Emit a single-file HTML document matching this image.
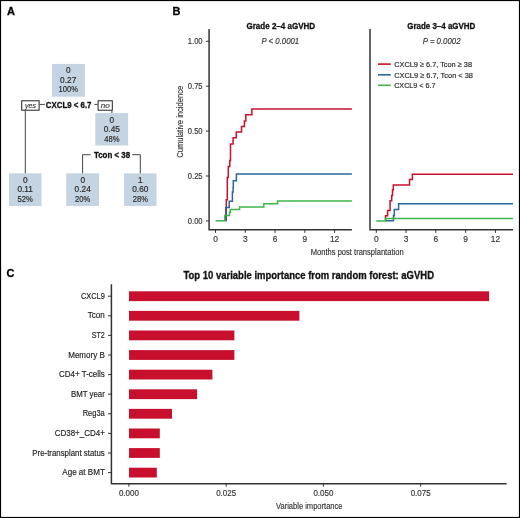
<!DOCTYPE html>
<html><head><meta charset="utf-8"><style>
html,body{margin:0;padding:0;background:#fff;}
body{width:520px;height:518px;overflow:hidden;}
svg{display:block;font-family:"Liberation Sans", sans-serif;will-change:transform;}
</style></head><body>
<svg width="520" height="518" viewBox="0 0 520 518">
<rect x="0.5" y="0.5" width="519" height="517" fill="none" stroke="#000" stroke-width="1.2"/>
<text x="7" y="15.2" font-size="11" text-anchor="start" font-weight="bold" font-style="normal" fill="#000"  stroke="#000" stroke-width="0.3">A</text>
<text x="172.6" y="15.2" font-size="11" text-anchor="start" font-weight="bold" font-style="normal" fill="#000"  stroke="#000" stroke-width="0.3">B</text>
<text x="6.6" y="277.2" font-size="11" text-anchor="start" font-weight="bold" font-style="normal" fill="#000"  stroke="#000" stroke-width="0.3">C</text>
<rect x="51.9" y="63.9" width="33.00000000000001" height="32.800000000000004" fill="#c5d4e2"/>
<text x="68.2" y="73.1" font-size="8.3" text-anchor="middle" font-weight="normal" font-style="normal" fill="#2a2a2a"  stroke="#2a2a2a" stroke-width="0.18">0</text>
<text x="68.2" y="82.8" font-size="8.3" text-anchor="middle" font-weight="normal" font-style="normal" fill="#2a2a2a"  stroke="#2a2a2a" stroke-width="0.18">0.27</text>
<text x="68.2" y="92.0" font-size="8.3" text-anchor="middle" font-weight="normal" font-style="normal" fill="#2a2a2a" textLength="19.42" lengthAdjust="spacingAndGlyphs"  stroke="#2a2a2a" stroke-width="0.18">100%</text>
<rect x="95.3" y="113.1" width="32.8" height="32.400000000000006" fill="#c5d4e2"/>
<text x="111.8" y="122.6" font-size="8.3" text-anchor="middle" font-weight="normal" font-style="normal" fill="#2a2a2a"  stroke="#2a2a2a" stroke-width="0.18">0</text>
<text x="111.8" y="132.3" font-size="8.3" text-anchor="middle" font-weight="normal" font-style="normal" fill="#2a2a2a"  stroke="#2a2a2a" stroke-width="0.18">0.45</text>
<text x="111.8" y="142.0" font-size="8.3" text-anchor="middle" font-weight="normal" font-style="normal" fill="#2a2a2a" textLength="15.2" lengthAdjust="spacingAndGlyphs"  stroke="#2a2a2a" stroke-width="0.18">48%</text>
<rect x="9.0" y="173.3" width="32.5" height="32.69999999999999" fill="#c5d4e2"/>
<text x="25.2" y="182.5" font-size="8.3" text-anchor="middle" font-weight="normal" font-style="normal" fill="#2a2a2a"  stroke="#2a2a2a" stroke-width="0.18">0</text>
<text x="25.2" y="192.2" font-size="8.3" text-anchor="middle" font-weight="normal" font-style="normal" fill="#2a2a2a"  stroke="#2a2a2a" stroke-width="0.18">0.11</text>
<text x="25.2" y="201.6" font-size="8.3" text-anchor="middle" font-weight="normal" font-style="normal" fill="#2a2a2a" textLength="15.2" lengthAdjust="spacingAndGlyphs"  stroke="#2a2a2a" stroke-width="0.18">52%</text>
<rect x="66.2" y="173.3" width="32.8" height="32.69999999999999" fill="#c5d4e2"/>
<text x="82.7" y="182.5" font-size="8.3" text-anchor="middle" font-weight="normal" font-style="normal" fill="#2a2a2a"  stroke="#2a2a2a" stroke-width="0.18">0</text>
<text x="82.7" y="192.2" font-size="8.3" text-anchor="middle" font-weight="normal" font-style="normal" fill="#2a2a2a"  stroke="#2a2a2a" stroke-width="0.18">0.24</text>
<text x="82.7" y="201.6" font-size="8.3" text-anchor="middle" font-weight="normal" font-style="normal" fill="#2a2a2a" textLength="15.2" lengthAdjust="spacingAndGlyphs"  stroke="#2a2a2a" stroke-width="0.18">20%</text>
<rect x="124.0" y="173.3" width="32.5" height="32.69999999999999" fill="#c5d4e2"/>
<text x="140.3" y="182.5" font-size="8.3" text-anchor="middle" font-weight="normal" font-style="normal" fill="#2a2a2a"  stroke="#2a2a2a" stroke-width="0.18">1</text>
<text x="140.3" y="192.2" font-size="8.3" text-anchor="middle" font-weight="normal" font-style="normal" fill="#2a2a2a"  stroke="#2a2a2a" stroke-width="0.18">0.60</text>
<text x="140.3" y="201.6" font-size="8.3" text-anchor="middle" font-weight="normal" font-style="normal" fill="#2a2a2a" textLength="15.2" lengthAdjust="spacingAndGlyphs"  stroke="#2a2a2a" stroke-width="0.18">28%</text>
<rect x="21.7" y="100.8" width="17.4" height="9.4" fill="#fff" stroke="#222" stroke-width="1"/>
<rect x="98.1" y="100.8" width="14.2" height="9.4" fill="#fff" stroke="#222" stroke-width="1"/>
<text x="30.5" y="108.0" font-size="7.8" text-anchor="middle" font-weight="normal" font-style="italic" fill="#3a3a3a" textLength="11.0" lengthAdjust="spacingAndGlyphs"  stroke="#3a3a3a" stroke-width="0.16">yes</text>
<text x="105.3" y="108.0" font-size="7.8" text-anchor="middle" font-weight="normal" font-style="italic" fill="#3a3a3a" textLength="9.0" lengthAdjust="spacingAndGlyphs"  stroke="#3a3a3a" stroke-width="0.16">no</text>
<path d="M39.6 104.4 H44.8 M94.3 104.4 H97.6 M25.3 110.5 V173.3 M111.9 110.5 V113.1 M90.6 154.7 H82.6 V173.3 M132.2 154.7 H140.3 V173.3" stroke="#444" stroke-width="1" fill="none"/>
<text x="45.8" y="107.5" font-size="8.5" text-anchor="start" font-weight="bold" font-style="normal" fill="#111" textLength="45.7" lengthAdjust="spacingAndGlyphs"  stroke="#111" stroke-width="0.3">CXCL9 &lt; 6.7</text>
<text x="93.9" y="157.7" font-size="8.5" text-anchor="start" font-weight="bold" font-style="normal" fill="#111" textLength="36.2" lengthAdjust="spacingAndGlyphs"  stroke="#111" stroke-width="0.3">Tcon &lt; 38</text>
<path d="M209.1 29 V229.7 H351.9" stroke="#333333" stroke-width="1.5" fill="none"/>
<path d="M205.9 220.9 H209.1 M205.9 176.0 H209.1 M205.9 131.1 H209.1 M205.9 86.2 H209.1 M205.9 41.3 H209.1 M215.5 229.7 V232.9 M245.28 229.7 V232.9 M275.05 229.7 V232.9 M304.82 229.7 V232.9 M334.6 229.7 V232.9" stroke="#333333" stroke-width="1" fill="none"/>
<text x="202.6" y="223.8" font-size="8.3" text-anchor="end" font-weight="normal" font-style="normal" fill="#333" textLength="14.8" lengthAdjust="spacingAndGlyphs"  stroke="#333" stroke-width="0.16">0.00</text>
<text x="202.6" y="178.9" font-size="8.3" text-anchor="end" font-weight="normal" font-style="normal" fill="#333" textLength="14.8" lengthAdjust="spacingAndGlyphs"  stroke="#333" stroke-width="0.16">0.25</text>
<text x="202.6" y="134.0" font-size="8.3" text-anchor="end" font-weight="normal" font-style="normal" fill="#333" textLength="14.8" lengthAdjust="spacingAndGlyphs"  stroke="#333" stroke-width="0.16">0.50</text>
<text x="202.6" y="89.1" font-size="8.3" text-anchor="end" font-weight="normal" font-style="normal" fill="#333" textLength="14.8" lengthAdjust="spacingAndGlyphs"  stroke="#333" stroke-width="0.16">0.75</text>
<text x="202.6" y="44.2" font-size="8.3" text-anchor="end" font-weight="normal" font-style="normal" fill="#333" textLength="14.8" lengthAdjust="spacingAndGlyphs"  stroke="#333" stroke-width="0.16">1.00</text>
<text x="215.5" y="242.2" font-size="8.4" text-anchor="middle" font-weight="normal" font-style="normal" fill="#333"  stroke="#333" stroke-width="0.16">0</text>
<text x="245.28" y="242.2" font-size="8.4" text-anchor="middle" font-weight="normal" font-style="normal" fill="#333"  stroke="#333" stroke-width="0.16">3</text>
<text x="275.05" y="242.2" font-size="8.4" text-anchor="middle" font-weight="normal" font-style="normal" fill="#333"  stroke="#333" stroke-width="0.16">6</text>
<text x="304.82" y="242.2" font-size="8.4" text-anchor="middle" font-weight="normal" font-style="normal" fill="#333"  stroke="#333" stroke-width="0.16">9</text>
<text x="334.6" y="242.2" font-size="8.4" text-anchor="middle" font-weight="normal" font-style="normal" fill="#333"  stroke="#333" stroke-width="0.16">12</text>
<path d="M370.0 29 V229.7 H513.0" stroke="#333333" stroke-width="1.5" fill="none"/>
<path d="M376.3 229.7 V232.9 M406.07 229.7 V232.9 M435.85 229.7 V232.9 M465.62 229.7 V232.9 M495.4 229.7 V232.9" stroke="#333333" stroke-width="1" fill="none"/>
<text x="376.3" y="242.2" font-size="8.4" text-anchor="middle" font-weight="normal" font-style="normal" fill="#333"  stroke="#333" stroke-width="0.16">0</text>
<text x="406.07" y="242.2" font-size="8.4" text-anchor="middle" font-weight="normal" font-style="normal" fill="#333"  stroke="#333" stroke-width="0.16">3</text>
<text x="435.85" y="242.2" font-size="8.4" text-anchor="middle" font-weight="normal" font-style="normal" fill="#333"  stroke="#333" stroke-width="0.16">6</text>
<text x="465.62" y="242.2" font-size="8.4" text-anchor="middle" font-weight="normal" font-style="normal" fill="#333"  stroke="#333" stroke-width="0.16">9</text>
<text x="495.4" y="242.2" font-size="8.4" text-anchor="middle" font-weight="normal" font-style="normal" fill="#333"  stroke="#333" stroke-width="0.16">12</text>
<path d="M226.3 221.2 V199.7 H227.3 V177.5 H228.3 V166.6 H229.8 V160.5 H230.5 V143.9 H233.1 V137.7 H236.3 V131.9 H241.5 V126.4 H244.4 V120.9 H245.8 V114.8 H251.9 V108.9 H351.9" stroke="#c8102e" stroke-width="1.5" fill="none" stroke-linejoin="miter"/>
<path d="M225.7 221.2 V207.6 H229.2 V201.2 H232.4 V192 H233.1 V187.7 H233.3 V180.8 H236.4 V173.9 H351.9" stroke="#2a6899" stroke-width="1.5" fill="none" stroke-linejoin="miter"/>
<path d="M215.5 220.8 H224.8 V215.5 H229.5 V212.2 H230.3 V209.5 H239.6 V207 H263.8 V203.8 H277.5 V201 H351.9" stroke="#3db54a" stroke-width="1.5" fill="none" stroke-linejoin="miter"/>
<path d="M385.5 220.9 V215.8 H387.6 V210.5 H390.1 V200.8 H391.7 V195.5 H392.5 V190 H393.3 V184.9 H409.5 V179.5 H412.4 V174.2 H513.0" stroke="#c8102e" stroke-width="1.5" fill="none" stroke-linejoin="miter"/>
<path d="M385.5 220.8 H393.5 V215.6 H394.3 V209.5 H398.6 V203.7 H513.0" stroke="#2a6899" stroke-width="1.5" fill="none" stroke-linejoin="miter"/>
<path d="M376.3 220.9 H385.5 V218.6 H513.0" stroke="#3db54a" stroke-width="1.5" fill="none" stroke-linejoin="miter"/>
<text x="246.5" y="28.8" font-size="8.8" text-anchor="start" font-weight="bold" font-style="normal" fill="#111" textLength="68.6" lengthAdjust="spacingAndGlyphs"  stroke="#111" stroke-width="0.3">Grade 2–4 aGVHD</text>
<text x="407.2" y="28.8" font-size="8.8" text-anchor="start" font-weight="bold" font-style="normal" fill="#111" textLength="68.2" lengthAdjust="spacingAndGlyphs"  stroke="#111" stroke-width="0.3">Grade 3–4 aGVHD</text>
<text x="261.5" y="43.6" font-size="8.7" text-anchor="start" font-weight="normal" font-style="italic" fill="#333" textLength="37.7" lengthAdjust="spacingAndGlyphs"  stroke="#333" stroke-width="0.16">P &lt; 0.0001</text>
<text x="422.8" y="43.6" font-size="8.7" text-anchor="start" font-weight="normal" font-style="italic" fill="#333" textLength="37.7" lengthAdjust="spacingAndGlyphs"  stroke="#333" stroke-width="0.16">P = 0.0002</text>
<path d="M378 64.1 H390.8" stroke="#c8102e" stroke-width="1.6"/>
<text x="394.2" y="66.9" font-size="8.0" text-anchor="start" font-weight="normal" font-style="normal" fill="#222" textLength="77.8" lengthAdjust="spacingAndGlyphs"  stroke="#222" stroke-width="0.16">CXCL9 ≥ 6.7, Tcon ≥ 38</text>
<path d="M378 74.8 H390.8" stroke="#2a6899" stroke-width="1.6"/>
<text x="394.2" y="77.6" font-size="8.0" text-anchor="start" font-weight="normal" font-style="normal" fill="#222" textLength="78.8" lengthAdjust="spacingAndGlyphs"  stroke="#222" stroke-width="0.16">CXCL9 ≥ 6.7, Tcon &lt; 38</text>
<path d="M378 85.3 H390.8" stroke="#3db54a" stroke-width="1.6"/>
<text x="394.2" y="88.1" font-size="8.0" text-anchor="start" font-weight="normal" font-style="normal" fill="#222" textLength="41.2" lengthAdjust="spacingAndGlyphs"  stroke="#222" stroke-width="0.16">CXCL9 &lt; 6.7</text>
<text x="310.8" y="254.8" font-size="8.8" text-anchor="start" font-weight="normal" font-style="normal" fill="#333" textLength="92.8" lengthAdjust="spacingAndGlyphs"  stroke="#333" stroke-width="0.16">Months post transplantation</text>
<text x="0" y="0" font-size="8.8" fill="#333" stroke="#333" stroke-width="0.15" textLength="72" lengthAdjust="spacingAndGlyphs" text-anchor="middle" transform="translate(182.5 121.8) rotate(-90)">Cumulative incidence</text>
<text x="183.5" y="279.0" font-size="10.1" text-anchor="start" font-weight="bold" font-style="normal" fill="#111" textLength="250.5" lengthAdjust="spacingAndGlyphs"  stroke="#111" stroke-width="0.3">Top 10 variable importance from random forest: aGVHD</text>
<path d="M111.4 284.3 V483.7 H506.6" stroke="#333333" stroke-width="1.5" fill="none"/>
<rect x="129" y="291.3" width="360.1" height="9.8" fill="#c8102e"/>
<text x="104.8" y="298.8" font-size="8.6" text-anchor="end" font-weight="normal" font-style="normal" fill="#222" textLength="23.9" lengthAdjust="spacingAndGlyphs"  stroke="#222" stroke-width="0.16">CXCL9</text>
<rect x="129" y="310.9" width="170.4" height="9.8" fill="#c8102e"/>
<text x="104.8" y="318.4" font-size="8.6" text-anchor="end" font-weight="normal" font-style="normal" fill="#222" textLength="17" lengthAdjust="spacingAndGlyphs"  stroke="#222" stroke-width="0.16">Tcon</text>
<rect x="129" y="330.5" width="105.4" height="9.8" fill="#c8102e"/>
<text x="104.8" y="338.0" font-size="8.6" text-anchor="end" font-weight="normal" font-style="normal" fill="#222" textLength="13.1" lengthAdjust="spacingAndGlyphs"  stroke="#222" stroke-width="0.16">ST2</text>
<rect x="129" y="350.1" width="105.4" height="9.8" fill="#c8102e"/>
<text x="104.8" y="357.6" font-size="8.6" text-anchor="end" font-weight="normal" font-style="normal" fill="#222" textLength="36.6" lengthAdjust="spacingAndGlyphs"  stroke="#222" stroke-width="0.16">Memory B</text>
<rect x="129" y="369.7" width="83.4" height="9.8" fill="#c8102e"/>
<text x="104.8" y="377.2" font-size="8.6" text-anchor="end" font-weight="normal" font-style="normal" fill="#222" textLength="45.8" lengthAdjust="spacingAndGlyphs"  stroke="#222" stroke-width="0.16">CD4+ T-cells</text>
<rect x="129" y="389.3" width="68.1" height="9.8" fill="#c8102e"/>
<text x="104.8" y="396.8" font-size="8.6" text-anchor="end" font-weight="normal" font-style="normal" fill="#222" textLength="33.9" lengthAdjust="spacingAndGlyphs"  stroke="#222" stroke-width="0.16">BMT year</text>
<rect x="129" y="408.9" width="43.0" height="9.8" fill="#c8102e"/>
<text x="104.8" y="416.4" font-size="8.6" text-anchor="end" font-weight="normal" font-style="normal" fill="#222" textLength="22.1" lengthAdjust="spacingAndGlyphs"  stroke="#222" stroke-width="0.16">Reg3a</text>
<rect x="129" y="428.5" width="30.8" height="9.8" fill="#c8102e"/>
<text x="104.8" y="436.0" font-size="8.6" text-anchor="end" font-weight="normal" font-style="normal" fill="#222" textLength="50.1" lengthAdjust="spacingAndGlyphs"  stroke="#222" stroke-width="0.16">CD38+_CD4+</text>
<rect x="129" y="448.1" width="30.8" height="9.8" fill="#c8102e"/>
<text x="104.8" y="455.6" font-size="8.6" text-anchor="end" font-weight="normal" font-style="normal" fill="#222" textLength="72.5" lengthAdjust="spacingAndGlyphs"  stroke="#222" stroke-width="0.16">Pre-transplant status</text>
<rect x="129" y="467.7" width="27.8" height="9.8" fill="#c8102e"/>
<text x="104.8" y="475.2" font-size="8.6" text-anchor="end" font-weight="normal" font-style="normal" fill="#222" textLength="42.5" lengthAdjust="spacingAndGlyphs"  stroke="#222" stroke-width="0.16">Age at BMT</text>
<text x="128.9" y="496.0" font-size="8.2" text-anchor="middle" font-weight="normal" font-style="normal" fill="#333" textLength="20" lengthAdjust="spacingAndGlyphs"  stroke="#333" stroke-width="0.16">0.000</text>
<text x="226.15" y="496.0" font-size="8.2" text-anchor="middle" font-weight="normal" font-style="normal" fill="#333" textLength="20" lengthAdjust="spacingAndGlyphs"  stroke="#333" stroke-width="0.16">0.025</text>
<text x="323.4" y="496.0" font-size="8.2" text-anchor="middle" font-weight="normal" font-style="normal" fill="#333" textLength="20" lengthAdjust="spacingAndGlyphs"  stroke="#333" stroke-width="0.16">0.050</text>
<text x="420.65" y="496.0" font-size="8.2" text-anchor="middle" font-weight="normal" font-style="normal" fill="#333" textLength="20" lengthAdjust="spacingAndGlyphs"  stroke="#333" stroke-width="0.16">0.075</text>
<path d="M108 296.2 H111.4 M108 315.8 H111.4 M108 335.4 H111.4 M108 355.0 H111.4 M108 374.6 H111.4 M108 394.2 H111.4 M108 413.8 H111.4 M108 433.4 H111.4 M108 453.0 H111.4 M108 472.6 H111.4 M128.9 483.7 V486.6 M226.15 483.7 V486.6 M323.4 483.7 V486.6 M420.65 483.7 V486.6" stroke="#333333" stroke-width="1" fill="none"/>
<text x="276.0" y="508.6" font-size="8.8" text-anchor="start" font-weight="normal" font-style="normal" fill="#333" textLength="66.5" lengthAdjust="spacingAndGlyphs"  stroke="#333" stroke-width="0.16">Variable importance</text>
</svg>
</body></html>
